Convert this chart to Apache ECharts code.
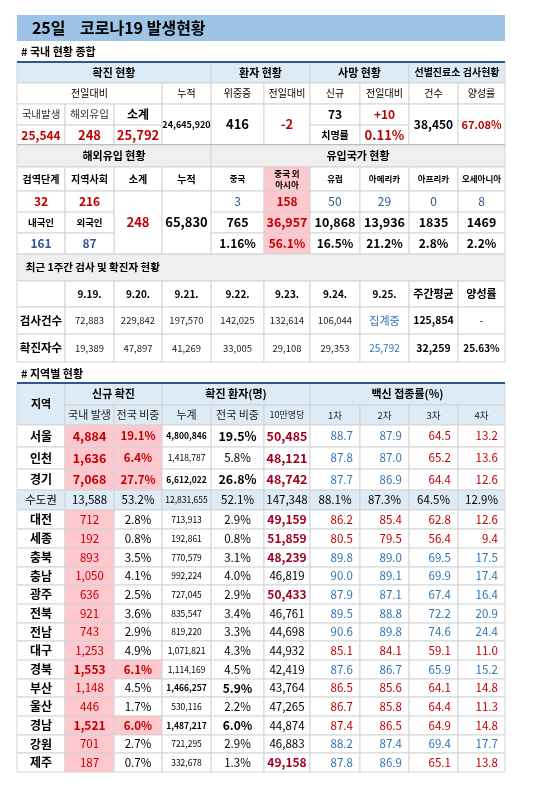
<!DOCTYPE html>
<html><head><meta charset="utf-8">
<script src="https://cdn.jsdelivr.net/npm/echarts@6/dist/echarts.min.js"></script>
<style>html,body{margin:0;padding:0;background:#fff}#c{width:550px;height:790px}</style>
</head><body><div id="c"></div>
<script>
// 국내 현황
const confHead = ['국내발생','해외유입','소계'];
const confVals = ['25,544','248','25,792'];
const confTotal = '24,645,920';
const severe = '416', severeDiff = '-2';
const deathNew = '73', deathDiff = '+10', fatality = '0.11%';
const testCount = '38,450', positiveRate = '67.08%';
// 해외유입
const importHead = ['검역단계','지역사회','소계','누적'];
const importVals = ['32','216','248','65,830'];
const importNat = ['161','87'];
const countries = ['중국','중국 외\n아시아','유럽','아메리카','아프리카','오세아니아'];
const countryToday = ['3','158','50','29','0','8'];
const countryTotal = ['765','36,957','10,868','13,936','1835','1469'];
const countryShare = ['1.16%','56.1%','16.5%','21.2%','2.8%','2.2%'];
// 최근 1주간
const weekDates = ['9.19.','9.20.','9.21.','9.22.','9.23.','9.24.','9.25.'];
const weekTests = ['72,883','229,842','197,570','142,025','132,614','106,044','집계중'];
const weekCases = ['19,389','47,897','41,269','33,005','29,108','29,353','25,792'];
const weekTestAvg = '125,854', weekCaseAvg = '32,259', weekRate = '25.63%';
// 지역별
const regions = ['서울','인천','경기','수도권','대전','세종','충북','충남','광주','전북','전남','대구','경북','부산','울산','경남','강원','제주'];
const newCases = ['4,884','1,636','7,068','13,588','712','192','893','1,050','636','921','743','1,253','1,553','1,148','446','1,521','701','187'];
const newShare = ['19.1%','6.4%','27.7%','53.2%','2.8%','0.8%','3.5%','4.1%','2.5%','3.6%','2.9%','4.9%','6.1%','4.5%','1.7%','6.0%','2.7%','0.7%'];
const cumCases = ['4,800,846','1,418,787','6,612,022','12,831,655','713,913','192,861','770,579','992,224','727,045','835,547','819,220','1,071,821','1,114,169','1,466,257','530,116','1,487,217','721,295','332,678'];
const cumShare = ['19.5%','5.8%','26.8%','52.1%','2.9%','0.8%','3.1%','4.0%','2.9%','3.4%','3.3%','4.3%','4.5%','5.9%','2.2%','6.0%','2.9%','1.3%'];
const per100k = [50485,48121,48742,147348,49159,51859,48239,46819,50433,46761,44698,44932,42419,43764,47265,44874,46883,49158];
const vac1 = [88.7,87.8,87.7,88.1,86.2,80.5,89.8,90.0,87.9,89.5,90.6,85.1,87.6,86.5,86.7,87.4,88.2,87.8];
const vac2 = [87.9,87.0,86.9,87.3,85.4,79.5,89.0,89.1,87.1,88.8,89.8,84.1,86.7,85.6,85.8,86.5,87.4,86.9];
const vac3 = [64.5,65.2,64.4,64.5,62.8,56.4,69.5,69.9,67.4,72.2,74.6,59.1,65.9,64.1,64.4,64.9,69.4,65.1];
const vac4 = [13.2,13.6,12.6,12.9,12.6,9.4,17.5,17.4,16.4,20.9,24.4,11.0,15.2,14.8,11.3,14.8,17.7,13.8];
const vacAvg = [87.5,86.6,65.5,15.0];

const X = [17,65,114,162,211,264,310,360,409,458,505];
const Y1 = [62,83,104,125,145];
const Y2 = [145,167,191,212,233,254,281,307,334,362];
const Y3 = [383,405,425,447,469,490,510,529,548,567,585,604,623,641,660,679,697,716,735,753,772];

const RED = '#c00000', DRED = '#a0001e', BLUE = '#2e75b6', NAVY = '#2f5597';
const HEAD = '#ddebf7', GRAY = '#efefef', PINK = '#ffc7ce';
const cells = [];
function cell(x0,x1,y0,y1,text,o){ o=o||{}; cells.push({x0,x1,y0,y1,text,fill:o.fill||'#fff',color:o.color||'#000',bold:o.bold,size:o.size||11,align:o.align||'center',stroke:o.stroke===undefined?'#d4d4d4':o.stroke}); }
function cc(c0,c1,y0,y1,text,o){ cell(X[c0],X[c1],y0,y1,text,o); }

// 제목
cell(17,505,15,41,'   25일    코로나19 발생현황',{fill:'#9dc3e6',bold:true,size:16,align:'left',stroke:null});
cell(17,300,44,59,'# 국내 현황 종합',{bold:true,size:11,align:'left',fill:'rgba(0,0,0,0)',stroke:null});

// 국내 현황 종합
const hb = {fill:HEAD,bold:true,size:11};
cc(0,4,Y1[0],Y1[1],'확진 현황',hb); cc(4,6,Y1[0],Y1[1],'환자 현황',hb);
cc(6,8,Y1[0],Y1[1],'사망 현황',hb); cc(8,10,Y1[0],Y1[1],'선별진료소 검사현황',{fill:HEAD,bold:true,size:10});
['전일대비','누적','위중증','전일대비','신규','전일대비','건수','양성률'].forEach((t,i)=>{
  if(i===0) cc(0,3,Y1[1],Y1[2],t,{size:10}); else cc(i+2,i+3,Y1[1],Y1[2],t,{size:10});
});
confHead.forEach((t,i)=>cc(i,i+1,Y1[2],Y1[3],t,{size:i===2?12:10.5,bold:i===2,color:i===2?'#000':'#333'}));
confVals.forEach((t,i)=>cc(i,i+1,Y1[3],Y1[4],t,{size:i===0?12:13,bold:true,color:RED}));
cc(3,4,Y1[2],Y1[4],confTotal,{size:9,bold:true});
cc(4,5,Y1[2],Y1[4],severe,{size:13,bold:true});
cc(5,6,Y1[2],Y1[4],severeDiff,{size:13,bold:true,color:RED});
cc(6,7,Y1[2],Y1[3],deathNew,{size:12,bold:true});
cc(7,8,Y1[2],Y1[3],deathDiff,{size:12,bold:true,color:RED});
cc(6,7,Y1[3],Y1[4],'치명률',{size:10,bold:true});
cc(7,8,Y1[3],Y1[4],fatality,{size:13,bold:true,color:RED});
cc(8,9,Y1[2],Y1[4],testCount,{size:12,bold:true});
cc(9,10,Y1[2],Y1[4],positiveRate,{size:11,bold:true,color:RED});
cell(17,505,144,146,'',{fill:'#a6a6a6',stroke:null});

// 해외유입
cc(0,4,Y2[0],Y2[1],'해외유입 현황',{fill:GRAY,bold:true});
cc(4,10,Y2[0],Y2[1],'유입국가 현황',{fill:GRAY,bold:true});
importHead.forEach((t,i)=>cc(i,i+1,Y2[1],Y2[2],t,{size:10,bold:true}));
countries.forEach((t,i)=>cc(i+4,i+5,Y2[1],Y2[2],t,{size:8.5,bold:true,fill:i===1?PINK:'#fff'}));
cc(0,1,Y2[2],Y2[3],importVals[0],{size:12,bold:true,color:RED});
cc(1,2,Y2[2],Y2[3],importVals[1],{size:12,bold:true,color:RED});
cc(2,3,Y2[2],Y2[5],importVals[2],{size:13,bold:true,color:RED});
cc(3,4,Y2[2],Y2[5],importVals[3],{size:13,bold:true});
cc(0,1,Y2[3],Y2[4],'내국인',{size:9.5,bold:true}); cc(1,2,Y2[3],Y2[4],'외국인',{size:9.5,bold:true});
importNat.forEach((t,i)=>cc(i,i+1,Y2[4],Y2[5],t,{size:12,bold:true,color:NAVY}));
countryToday.forEach((t,i)=>cc(i+4,i+5,Y2[2],Y2[3],t,{size:12,color:i===1?RED:NAVY,bold:i===1,fill:i===1?PINK:'#fff'}));
countryTotal.forEach((t,i)=>cc(i+4,i+5,Y2[3],Y2[4],t,{size:12.5,bold:true,color:i===1?RED:'#000',fill:i===1?PINK:'#fff'}));
countryShare.forEach((t,i)=>cc(i+4,i+5,Y2[4],Y2[5],t,{size:12,bold:true,color:i===1?RED:'#000',fill:i===1?PINK:'#fff'}));

// 최근 1주간
cc(0,10,Y2[5],Y2[6],'  최근 1주간 검사 및 확진자 현황',{fill:GRAY,bold:true,size:10.5,align:'left'});
cc(0,1,Y2[6],Y2[7],'');
weekDates.forEach((t,i)=>cc(i+1,i+2,Y2[6],Y2[7],t,{bold:true,size:10}));
cc(8,9,Y2[6],Y2[7],'주간평균',{bold:true,size:11}); cc(9,10,Y2[6],Y2[7],'양성률',{bold:true,size:11});
cc(0,1,Y2[7],Y2[8],'검사건수',{bold:true,size:11.5});
cc(0,1,Y2[8],Y2[9],'확진자수',{bold:true,size:11.5});
weekTests.forEach((t,i)=>cc(i+1,i+2,Y2[7],Y2[8],t,{size:i===6?11:9.5,color:i===6?BLUE:'#222'}));
weekCases.forEach((t,i)=>cc(i+1,i+2,Y2[8],Y2[9],t,{size:i===6?10:9.5,color:i===6?BLUE:'#222'}));
cc(8,9,Y2[7],Y2[8],weekTestAvg,{bold:true,size:10.5}); cc(9,10,Y2[7],Y2[8],'-',{size:10});
cc(8,9,Y2[8],Y2[9],weekCaseAvg,{bold:true,size:10.5}); cc(9,10,Y2[8],Y2[9],weekRate,{bold:true,size:10});

// 지역별 현황
cell(17,300,366,381,'# 지역별 현황',{bold:true,size:11,align:'left',fill:'rgba(0,0,0,0)',stroke:null});
cc(0,1,Y3[0],Y3[2],'지역',hb);
cc(1,3,Y3[0],Y3[1],'신규 확진',hb); cc(3,6,Y3[0],Y3[1],'확진 환자(명)',hb); cc(6,10,Y3[0],Y3[1],'백신 접종률(%)',hb);
['국내 발생','전국 비중','누계','전국 비중','10만명당','1차','2차','3차','4차'].forEach((t,i)=>
  cc(i+1,i+2,Y3[1],Y3[2],t,{fill:HEAD,size:i===4?9:(i>4?9.5:11),color:'#222'}));
const hot = ['서울','인천','경기','경북','경남'];
const boldCum = ['서울','경기','부산','경남'];
regions.forEach((r,k)=>{
  const y0=Y3[k+2], y1=Y3[k+3], metro = r==='수도권';
  const big = k<3 ? 12.5 : 12;
  if(metro){
    const o={fill:HEAD,size:11.5};
    cc(0,1,y0,y1,r,o); cc(1,2,y0,y1,newCases[k],o); cc(2,3,y0,y1,newShare[k],o);
    cc(3,4,y0,y1,cumCases[k],{fill:HEAD,size:8.5}); cc(4,5,y0,y1,cumShare[k],o);
    cc(5,6,y0,y1,per100k[k].toLocaleString('en-US'),o);
    [vac1,vac2,vac3,vac4].forEach((v,j)=>cc(6+j,7+j,y0,y1,v[k].toFixed(1)+'%',o));
    return;
  }
  const h = hot.includes(r), bc = boldCum.includes(r);
  cc(0,1,y0,y1,r,{bold:true,size:12});
  cc(1,2,y0,y1,newCases[k],{fill:PINK,color:RED,bold:h,size:h?big:11.5});
  cc(2,3,y0,y1,newShare[k],{fill:h?PINK:'#fff',color:h?RED:'#000',bold:h,size:11.5});
  cc(3,4,y0,y1,cumCases[k],{size:8.5,bold:bc});
  cc(4,5,y0,y1,cumShare[k],{bold:bc,size:bc?big:11.5});
  const hi = per100k[k]>=48000;
  cc(5,6,y0,y1,per100k[k].toLocaleString('en-US'),{bold:hi,color:hi?DRED:'#000',size:hi?big:11.5});
  [vac1,vac2,vac3,vac4].forEach((v,j)=>
    cell(X[6+j],X[7+j],y0,y1,v[k].toFixed(1)+'  ',{align:'right',size:11.5,color:v[k]>=vacAvg[j]?BLUE:RED}));
});
cell(17,505,Y1[0]-1,Y1[0]+1,'',{fill:NAVY,stroke:null});
cell(17,505,Y3[0]-1,Y3[0]+1,'',{fill:NAVY,stroke:null});

const chart = echarts.init(document.getElementById('c'));
chart.setOption({
  animation:false,
  grid:{left:0,right:0,top:0,bottom:0},
  xAxis:{type:'value',min:0,max:550,show:false},
  yAxis:{type:'value',min:0,max:790,inverse:true,show:false},
  series:[{
    type:'custom', coordinateSystem:'cartesian2d', clip:false,
    data: cells.map(d=>[d.x0,d.y0,d.x1,d.y1]),
    renderItem:(params,api)=>{
      const d = cells[params.dataIndex];
      const p0 = api.coord([api.value(0),api.value(1)]);
      const p1 = api.coord([api.value(2),api.value(3)]);
      const w = p1[0]-p0[0], h = p1[1]-p0[1];
      const tx = d.align==='left'? p0[0]+4 : d.align==='right'? p1[0]-2 : p0[0]+w/2;
      return {type:'group',children:[
        {type:'rect',shape:{x:p0[0],y:p0[1],width:w,height:h},
         style:{fill:d.fill,stroke:d.stroke||null,lineWidth:d.stroke?1:0}},
        {type:'text',x:tx,y:p0[1]+h/2,
         style:{text:d.text,align:d.align,verticalAlign:'middle',fill:d.color,lineHeight:11,
           font:(d.bold?'bold ':'')+d.size+'px "Noto Sans CJK KR", "Malgun Gothic", sans-serif'}}
      ]};
    }
  }]
});
</script></body></html>
